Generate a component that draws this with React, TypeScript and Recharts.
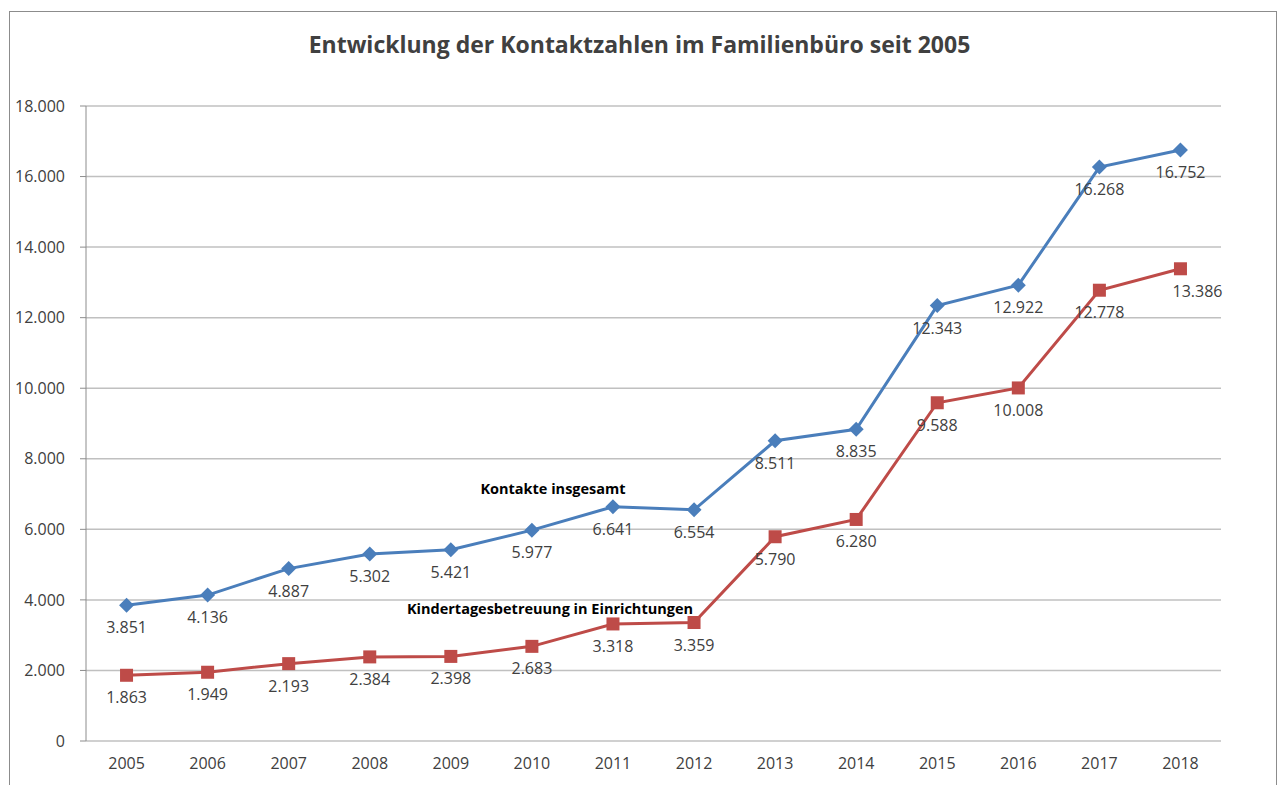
import { LineChart, Line, XAxis, YAxis, CartesianGrid, LabelList } from "recharts";

const years = [2005, 2006, 2007, 2008, 2009, 2010, 2011, 2012, 2013, 2014, 2015, 2016, 2017, 2018];
const kontakte = [3851, 4136, 4887, 5302, 5421, 5977, 6641, 6554, 8511, 8835, 12343, 12922, 16268, 16752];
const kita = [1863, 1949, 2193, 2384, 2398, 2683, 3318, 3359, 5790, 6280, 9588, 10008, 12778, 13386];
const yTicks = [0, 2000, 4000, 6000, 8000, 10000, 12000, 14000, 16000, 18000];

const data = years.map((year, idx) => ({ idx, year, kontakte: kontakte[idx], kita: kita[idx] }));
const labelTicks = years.map((_, i) => i);
const boundaryTicks = [...years.map((_, i) => i - 0.5), years.length - 0.5];

const BLUE = "#4a7ebb";
const RED = "#be4b48";

function fmt(v: number) {
  return String(v).replace(/\B(?=(\d{3})+(?!\d))/g, ".");
}

function Diamond(props: any) {
  const { cx, cy } = props;
  if (cx == null || cy == null) return null;
  const r = 7.5;
  return <path d={`M${cx},${cy - r}L${cx + r},${cy}L${cx},${cy + r}L${cx - r},${cy}Z`} fill={BLUE} />;
}

function Square(props: any) {
  const { cx, cy } = props;
  if (cx == null || cy == null) return null;
  return <rect x={cx - 6.5} y={cy - 6.5} width={13} height={13} fill={RED} />;
}

function ValueLabel(props: any) {
  const { x, y, value, index, last } = props;
  const dx = last && index === years.length - 1 ? 17 : 0;
  return (
    <text x={x + dx} y={y + 28} textAnchor="middle" fontSize={16} fill="#404040">
      {fmt(value)}
    </text>
  );
}

export default function App() {
  return (
    <div
      style={{
        position: "absolute",
        left: 0,
        top: 0,
        width: 1279,
        height: 785,
        overflow: "hidden",
        background: "#fff",
        fontFamily: "'Open Sans', sans-serif",
      }}
    >
      <div
        style={{
          position: "absolute",
          left: 9,
          top: 11,
          width: 1266,
          height: 800,
          border: "1px solid #8c8c8c",
        }}
      />
      <div
        style={{
          position: "absolute",
          left: 0,
          width: 1279,
          top: 28,
          textAlign: "center",
          fontSize: 23,
          fontWeight: 700,
          color: "#404040",
        }}
      >
        Entwicklung der Kontaktzahlen im Familienbüro seit 2005
      </div>
      <LineChart
        width={1279}
        height={785}
        data={data}
        margin={{ top: 106, right: 58, bottom: 14, left: 26 }}
        style={{ position: "absolute", left: 0, top: 0 }}
      >
        <CartesianGrid vertical={false} stroke="#c0c0c0" strokeWidth={1.5} yAxisId="y" xAxisId="tk" />
        <XAxis
          xAxisId="tk"
          type="number"
          dataKey="idx"
          domain={[-0.5, years.length - 0.5]}
          ticks={boundaryTicks}
          tick={false}
          height={0}
          tickSize={6}
          stroke="#8c8c8c"
          allowDataOverflow
        />
        <XAxis
          xAxisId="lab"
          type="number"
          dataKey="idx"
          domain={[-0.5, years.length - 0.5]}
          ticks={labelTicks}
          tickFormatter={(i: number) => String(years[i])}
          axisLine={false}
          tickLine={false}
          tickSize={0}
          tickMargin={17}
          height={30}
          interval={0}
          tick={{ fontSize: 16, fill: "#404040" }}
          allowDataOverflow
        />
        <YAxis
          yAxisId="y"
          domain={[0, 18000]}
          ticks={yTicks}
          tickFormatter={fmt}
          width={60}
          tickSize={6}
          tickMargin={15}
          stroke="#8c8c8c"
          tick={{ fontSize: 16, fill: "#404040" }}
          interval={0}
        />
        <Line
          xAxisId="lab"
          yAxisId="y"
          dataKey="kontakte"
          stroke={BLUE}
          strokeWidth={3}
          dot={<Diamond />}
          activeDot={false}
          isAnimationActive={false}
        >
          <LabelList dataKey="kontakte" content={<ValueLabel />} />
        </Line>
        <Line
          xAxisId="lab"
          yAxisId="y"
          dataKey="kita"
          stroke={RED}
          strokeWidth={3}
          dot={<Square />}
          activeDot={false}
          isAnimationActive={false}
        >
          <LabelList dataKey="kita" content={<ValueLabel last />} />
        </Line>
      </LineChart>
      <div
        style={{
          position: "absolute",
          left: 553,
          top: 488,
          transform: "translate(-50%, -50%)",
          fontSize: 14.5,
          fontWeight: 700,
          color: "#000",
          whiteSpace: "nowrap",
        }}
      >
        Kontakte insgesamt
      </div>
      <div
        style={{
          position: "absolute",
          left: 550,
          top: 608,
          transform: "translate(-50%, -50%)",
          fontSize: 14.5,
          fontWeight: 700,
          color: "#000",
          whiteSpace: "nowrap",
        }}
      >
        Kindertagesbetreuung in Einrichtungen
      </div>
    </div>
  );
}
